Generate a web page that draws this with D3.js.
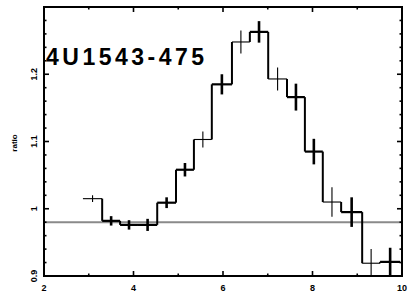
<!DOCTYPE html>
<html>
<head>
<meta charset="utf-8">
<script src="https://cdn.jsdelivr.net/npm/d3@7"></script>
<style>
body { margin: 0; background: #fff; }
svg { display: block; font-family: "Liberation Sans", Arial, sans-serif; }
</style>
</head>
<body>
<div id="chart"></div>
<script>
// bin edges (keV) and ratio values
var binEdges = [2.87, 3.30, 3.70, 4.10, 4.53, 4.95, 5.35, 5.75, 6.20, 6.60, 7.01, 7.43, 7.83, 8.23, 8.64, 9.11, 9.51, 9.96];
var ratioValues = [1.015, 0.982, 0.976, 0.976, 1.009, 1.058, 1.103, 1.185, 1.248, 1.263, 1.193, 1.166, 1.085, 1.010, 0.995, 0.919, 0.921];
var ratioErrors = [0.005, 0.007, 0.007, 0.009, 0.008, 0.010, 0.012, 0.015, 0.017, 0.016, 0.017, 0.020, 0.019, 0.022, 0.022, 0.021, 0.021];
var binGroup = ["B", "A", "A", "A", "A", "A", "B", "A", "B", "A", "B", "A", "A", "B", "A", "B", "A"];
var refLevel = 0.98;
var xTicks = [2, 4, 6, 8, 10];
var yTicks = [0.9, 1, 1.1, 1.2];
var yTickLabels = ["0.9", "1", "1.1", "1.2"];
var sourceName = "4U1543-475";

var width = 409, height = 294;
var plotLeft = 44, plotRight = 402, plotTop = 7, plotBottom = 276;

var svg = d3.select("#chart").append("svg")
    .attr("width", width)
    .attr("height", height);

var x = d3.scaleLinear().domain([2, 10]).range([plotLeft, plotRight]);
var y = d3.scaleLinear().domain([0.9, 1.3]).range([plotBottom, plotTop]);

svg.append("defs").append("clipPath").attr("id", "clip")
    .append("rect")
    .attr("x", plotLeft).attr("y", plotTop)
    .attr("width", plotRight - plotLeft).attr("height", plotBottom - plotTop);

var bins = ratioValues.map(function(v, i) {
    return { x0: binEdges[i], x1: binEdges[i + 1], v: v, e: ratioErrors[i], g: binGroup[i] };
});

var plot = svg.append("g").attr("clip-path", "url(#clip)");

// reference line
plot.append("line")
    .attr("x1", plotLeft).attr("x2", plotRight)
    .attr("y1", y(refLevel)).attr("y2", y(refLevel))
    .attr("stroke", "#8a8a8a")
    .attr("stroke-width", 2);

function w(g) { return g === "A" ? 2.2 : 1.1; }

// vertical connectors between bins
for (var i = 0; i < bins.length - 1; i++) {
    plot.append("line")
        .attr("x1", x(bins[i].x1)).attr("x2", x(bins[i].x1))
        .attr("y1", y(bins[i].v)).attr("y2", y(bins[i + 1].v))
        .attr("stroke", "#000")
        .attr("stroke-width", 2);
}

// horizontal steps
plot.selectAll(".step").data(bins).enter().append("line")
    .attr("class", "step")
    .attr("x1", function(d) { return x(d.x0); })
    .attr("x2", function(d) { return x(d.x1); })
    .attr("y1", function(d) { return y(d.v); })
    .attr("y2", function(d) { return y(d.v); })
    .attr("stroke", "#000")
    .attr("stroke-width", function(d) { return w(d.g); });

// error bars
plot.selectAll(".err").data(bins).enter().append("line")
    .attr("class", "err")
    .attr("x1", function(d) { return x((d.x0 + d.x1) / 2); })
    .attr("x2", function(d) { return x((d.x0 + d.x1) / 2); })
    .attr("y1", function(d) { return y(d.v - d.e); })
    .attr("y2", function(d) { return y(d.v + d.e); })
    .attr("stroke", "#000")
    .attr("stroke-width", function(d) { return d.g === "A" ? 2.6 : 1.1; });

// inward ticks on all four sides
var frame = svg.append("g");

function tickLines(vals, isMajor, side) {
    vals.forEach(function(v) {
        var len = isMajor(v) ? 5 : 2.5;
        var l = frame.append("line").attr("stroke", "#000").attr("stroke-width", 1.6);
        if (side === "bottom") l.attr("x1", x(v)).attr("x2", x(v)).attr("y1", plotBottom).attr("y2", plotBottom - len);
        if (side === "top") l.attr("x1", x(v)).attr("x2", x(v)).attr("y1", plotTop).attr("y2", plotTop + len);
        if (side === "left") l.attr("y1", y(v)).attr("y2", y(v)).attr("x1", plotLeft).attr("x2", plotLeft + len);
        if (side === "right") l.attr("y1", y(v)).attr("y2", y(v)).attr("x1", plotRight).attr("x2", plotRight - len);
    });
}
var xMinor = d3.range(3, 10, 1);
var yMinor = d3.range(1, 20).map(function(k) { return 0.9 + k * 0.02; });
function xMaj(v) { return Math.abs(v % 2) < 1e-6; }
function yMaj(v) { return Math.abs(Math.round(v * 10) - v * 10) < 1e-6; }
tickLines(xMinor, xMaj, "bottom");
tickLines(xMinor, xMaj, "top");
tickLines(yMinor, yMaj, "left");
tickLines(yMinor, yMaj, "right");

frame.append("rect")
    .attr("x", plotLeft).attr("y", plotTop)
    .attr("width", plotRight - plotLeft).attr("height", plotBottom - plotTop)
    .attr("fill", "none")
    .attr("stroke", "#000")
    .attr("stroke-width", 2);

// tick labels
svg.selectAll(".xl").data(xTicks).enter().append("text")
    .attr("x", function(d) { return x(d); })
    .attr("y", 291)
    .attr("text-anchor", "middle")
    .attr("font-size", 9)
    .attr("font-weight", "bold")
    .text(function(d) { return d; });

svg.selectAll(".yl").data(yTicks).enter().append("text")
    .attr("transform", function(d) { return "translate(37," + y(d) + ") rotate(-90)"; })
    .attr("text-anchor", "middle")
    .attr("font-size", 9)
    .attr("font-weight", "bold")
    .text(function(d, i) { return yTickLabels[i]; });

svg.append("text")
    .attr("transform", "translate(17,143) rotate(-90)")
    .attr("text-anchor", "middle")
    .attr("font-size", 8)
    .attr("font-weight", "bold")
    .text("ratio");

svg.append("text")
    .attr("x", 46)
    .attr("y", 65)
    .attr("font-size", 23)
    .attr("font-weight", "bold")
    .attr("textLength", 158)
    .attr("lengthAdjust", "spacing")
    .text(sourceName);
</script>
</body>
</html>
